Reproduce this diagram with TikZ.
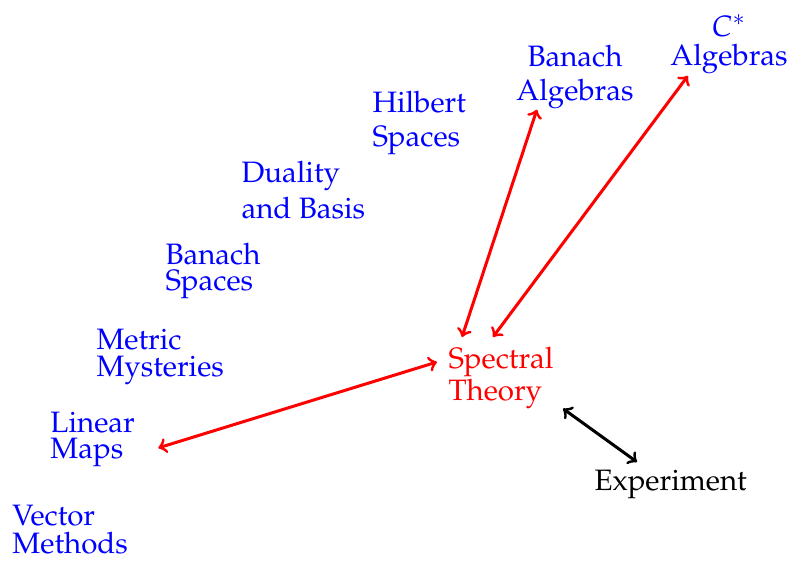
\documentclass[tikz,border=0pt]{standalone}
\usepackage[T1]{fontenc}
\usepackage{mathpazo}
\usepackage{tikz}

\setlength{\lineskiplimit}{-20pt}

\tikzset{
    topic/.style={blue, align=left, anchor=north west, inner sep=0pt,
        font=\fontsize{11.8}{9.6}\selectfont},
    goal/.style={topic, red},
    link/.style={red, very thick, <->},
}

\begin{document}
\begin{tikzpicture}[x=0.4pt, y=-0.4pt]

\useasboundingbox (0,0) rectangle (791,560);

\node [topic] (vm) at (12,505) {Vector\\[1.6pt]Methods};
\node [topic] (lm) at (50,412) {Linear\\[0.8pt]Maps};
\node [topic] (mm) at (96,329) {Metric\\[1.2pt]Mysteries};
\node [topic] (bs) at (165,243) {Banach\\[0.8pt]Spaces};
\node [topic] (db) at (241,161) {Duality\\[4.8pt]and Basis};
\node [topic] (hs) at (372,91) {Hilbert\\[4pt]Spaces};
\node [topic, align=center, anchor=north] (ba) at (575,45) {Banach\\[4pt]Algebras};
\node [topic, align=center, anchor=north] (ca) at (729,14) {$C^*$\\[2pt]Algebras};

\node [goal] (st) at (448,347) {Spectral\\[3.2pt]Theory};
\node [topic, black] (ex) at (594,470) {Experiment};

% links into spectral theory
\draw [link] ([shift={(23,8)}]lm.east) -- ([shift={(-11,15)}]st.north west);
\draw [link] ([shift={(14,-10)}]st.north west) -- ([shift={(21,0)}]ba.south west);
\draw [link] ([shift={(45,-10)}]st.north west) -- ([shift={(18,2)}]ca.south west);
\draw [very thick, <->] ([shift={(9,-1)}]st.south east) -- ([shift={(43,-8)}]ex.north west);

\end{tikzpicture}
\end{document}
